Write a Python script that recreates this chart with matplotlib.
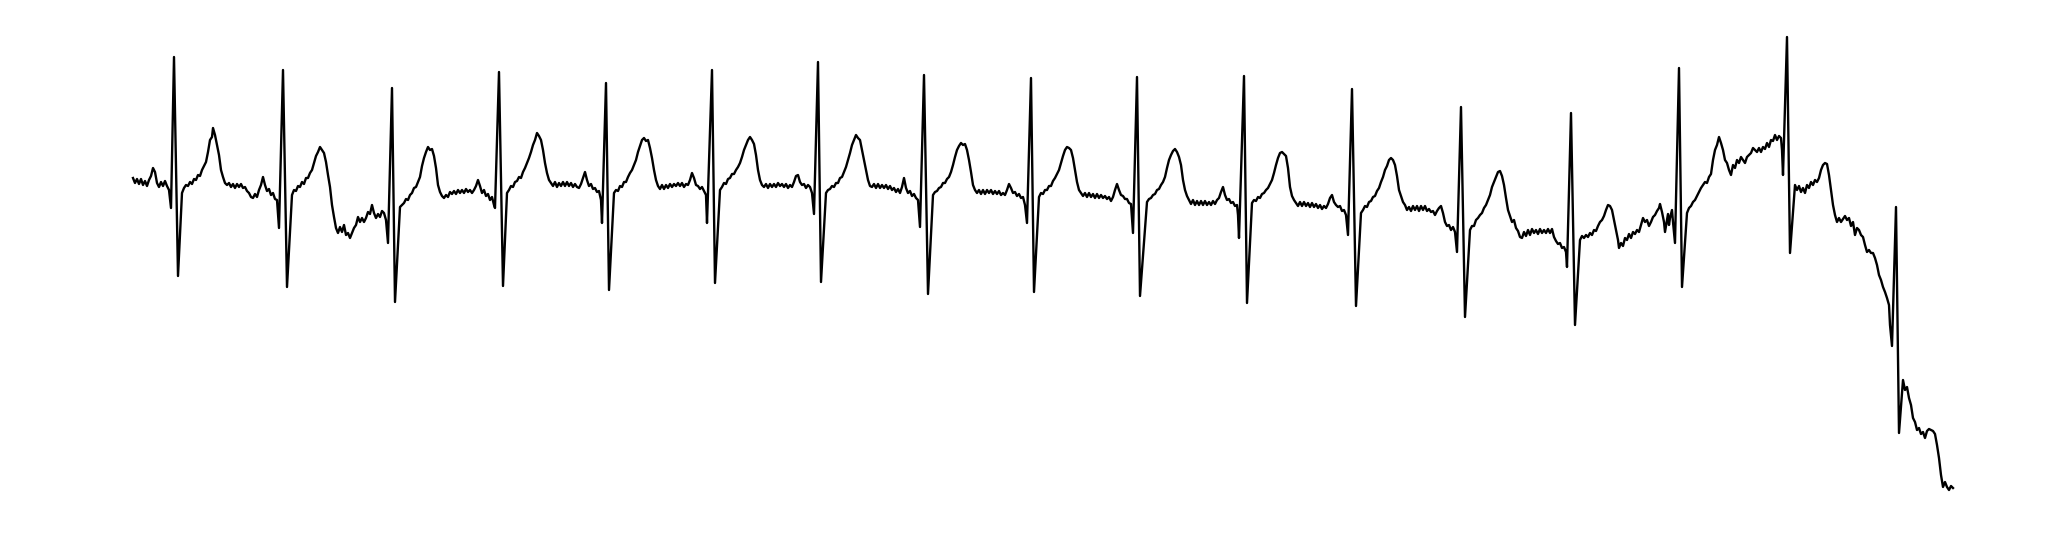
import numpy as np
import matplotlib
matplotlib.use("Agg")
import matplotlib.pyplot as plt

fs = 100.0          # samples per second
uv_per_count = 10.0 # ADC resolution

# sample index of each recorded point (one lead)
sample = [
    133,135,137,139,141,143,145,147,149,151,153,155,157,159,161,163,165,167,169,171,174,178,182,
    184,186,188,190,192,194,196,198,200,202,204,206,208,210,212,213,215,217,219,221,223,225,227,
    229,231,233,235,237,239,241,243,245,247,249,251,253,255,257,259,261,263,265,267,269,271,273,275,277,279,283,287,292,
    294,296,298,300,302,304,306,308,310,312,314,316,318,320,322,324,326,328,330,332,334,336,338,340,342,344,346,348,350,352,354,356,358,360,362,364,366,368,370,372,374,376,378,380,382,384,386,388,392,395,400,
    402,404,406,408,410,412,414,416,418,420,422,424,426,428,430,432,434,436,438,440,442,444,446,448,450,452,454,456,458,460,462,464,466,468,470,472,474,476,478,480,482,484,486,488,490,492,494,495,499,503,507,
    509,511,513,515,517,519,521,523,525,527,529,531,533,535,537,539,541,543,545,547,549,551,553,555,557,559,561,563,565,567,569,571,573,575,577,579,581,583,585,587,589,591,593,595,597,599,601,602,606,609,614,
    616,618,620,622,624,626,628,630,632,634,636,638,640,642,644,646,648,650,652,654,656,658,660,662,664,666,668,670,672,674,676,678,680,682,684,686,688,690,692,694,696,698,700,702,704,706,707,712,715,720,
    722,724,726,728,730,732,734,736,738,740,742,744,746,748,750,752,754,756,758,760,762,764,766,768,770,772,774,776,778,780,782,784,786,788,790,792,794,796,798,800,802,804,806,808,810,812,814,818,821,826,
    828,830,832,834,836,838,840,842,844,846,848,850,852,854,856,858,860,862,864,866,868,870,872,874,876,878,880,882,884,886,888,890,892,894,896,898,900,902,904,906,908,910,912,914,916,918,920,924,928,933,
    935,937,939,941,943,945,947,949,951,953,955,957,959,961,963,965,967,969,971,973,975,977,979,981,983,985,987,989,991,993,995,997,999,1001,1003,1005,1007,1009,1011,1013,1015,1017,1019,1021,1023,1025,1027,1031,1034,1039,
    1041,1043,1045,1047,1049,1051,1053,1055,1057,1059,1061,1063,1065,1067,1069,1071,1073,1075,1077,1079,1081,1083,1085,1087,1089,1091,1093,1095,1097,1099,1101,1103,1105,1107,1109,1111,1113,1115,1117,1119,1121,1123,1125,1127,1129,1131,1133,1137,1140,1147,
    1149,1151,1153,1155,1157,1159,1161,1163,1165,1167,1169,1171,1173,1175,1177,1179,1181,1183,1185,1187,1189,1191,1193,1195,1197,1199,1201,1203,1205,1207,1209,1211,1213,1215,1217,1219,1221,1223,1225,1227,1229,1231,1233,1235,1237,1238,1239,1244,1247,1252,
    1254,1256,1258,1260,1262,1264,1266,1268,1270,1272,1274,1276,1278,1280,1282,1284,1286,1288,1290,1292,1294,1296,1298,1300,1302,1304,1306,1308,1310,1312,1314,1316,1318,1320,1322,1324,1326,1328,1330,1332,1334,1336,1338,1340,1342,1344,1346,1348,1352,1356,1361,
    1363,1365,1367,1369,1371,1373,1375,1377,1379,1381,1383,1385,1387,1389,1391,1393,1395,1397,1399,1401,1403,1405,1407,1409,1411,1413,1415,1417,1419,1421,1423,1425,1427,1429,1431,1433,1435,1437,1439,1441,1443,1445,1447,1449,1451,1453,1455,1457,1461,1465,1470,
    1472,1474,1476,1478,1480,1482,1484,1486,1488,1490,1492,1494,1496,1498,1500,1502,1504,1506,1508,1510,1512,1514,1516,1518,1520,1522,1524,1526,1528,1530,1532,1534,1536,1538,1540,1542,1544,1546,1548,1550,1552,1554,1556,1558,1560,1562,1564,1566,1567,1571,1575,1580,
    1582,1584,1586,1588,1590,1592,1594,1596,1598,1600,1602,1604,1606,1608,1610,1612,1614,1616,1618,1619,1621,1623,1625,1627,1629,1631,1633,1635,1637,1639,1641,1643,1645,1647,1649,1651,1653,1655,1657,1659,1660,1662,1664,1665,1667,1668,1669,1670,1672,1673,1675,1679,1682,1687,
    1689,1691,1693,1695,1697,1699,1701,1703,1705,1707,1709,1711,1713,1715,1717,1719,1721,1723,1725,1727,1729,1731,1733,1735,1737,1739,1741,1743,1745,1747,1749,1751,1753,1755,1757,1759,1761,1763,1765,1767,1769,1771,1773,1775,1777,1779,1781,1782,1783,1787,1790,1795,
    1797,1799,1801,1803,1805,1807,1809,1811,1813,1815,1817,1819,1821,1823,1825,1827,1829,1831,1833,1835,1837,1839,1841,1843,1845,1847,1849,1851,1853,1855,1857,1859,1861,1863,1865,1867,1869,1871,1873,1875,1877,1879,1881,1883,1885,1887,1889,1890,1892,1896,1899,
    1903,1905,1907,1909,1911,1913,1915,1917,1919,1921,1923,1925,1927,1929,1931,1933,1935,1937,1939,1941,1943,1945,1947,1949,1951,1953,
]

# raw ADC counts at those samples
counts = [
    22,17,21,16,21,15,19,14,20,24,32,28,17,13,18,14,19,14,10,-8,143,-76,7,
    12,15,14,18,16,21,20,25,24,30,34,38,48,60,63,72,65,55,45,30,23,17,15,
    17,13,16,12,16,13,16,12,13,9,7,3,2,6,3,10,15,23,15,9,11,5,7,1,0,-28,130,-87,5,
    10,9,14,13,18,16,22,22,27,30,37,44,48,53,50,47,38,25,13,-5,-17,-28,-33,-27,-32,-25,-35,-33,-38,-33,-28,-25,-17,-22,-18,-22,-18,-12,-14,-5,-13,-18,-14,-17,-11,-13,-20,-43,112,-102,-7,
    -5,-3,1,0,5,7,12,13,18,23,34,42,48,53,50,51,44,32,15,8,4,2,5,3,8,6,9,6,10,7,10,7,11,8,10,7,10,14,20,14,7,10,4,6,0,3,-5,-8,128,-86,7,
    10,14,13,18,19,23,22,28,32,37,42,48,55,60,67,64,60,50,37,27,20,17,14,18,13,17,14,18,14,18,14,17,13,16,13,12,16,22,28,20,14,16,11,12,8,9,0,-23,117,-90,7,
    10,9,14,13,18,18,23,27,30,35,40,48,54,60,62,59,60,52,42,30,20,14,11,15,11,15,12,16,13,16,14,17,14,17,13,16,15,20,27,22,15,14,11,13,9,5,-23,130,-83,10,
    13,17,16,21,22,26,26,30,33,37,43,50,55,60,63,60,56,45,30,20,15,13,16,12,16,13,16,13,17,14,16,13,16,12,15,13,18,24,25,18,15,16,12,15,13,7,-14,138,-82,7,
    10,11,14,13,17,17,22,23,28,33,40,47,55,60,65,62,60,50,40,30,20,14,13,16,12,16,12,15,12,15,11,14,10,12,8,11,7,13,22,12,7,9,4,6,2,0,-27,125,-94,5,
    8,9,12,13,17,17,21,23,28,35,43,50,54,57,55,56,50,40,28,15,10,7,10,6,10,6,10,7,10,6,9,6,9,5,7,5,10,16,12,7,8,4,6,2,3,-5,-23,122,-92,3,
    7,6,10,10,14,14,19,22,26,30,37,44,50,53,52,50,42,30,18,10,7,4,7,3,7,3,6,2,6,2,5,2,4,1,3,-1,3,10,16,10,5,4,1,1,-3,-4,-33,123,-96,-2,
    1,2,5,6,10,11,15,18,23,32,40,45,49,51,48,43,35,20,10,4,0,-4,0,-5,-1,-5,-1,-5,-1,-5,-2,-5,-1,-4,0,2,8,13,5,0,1,-3,-2,-6,-5,-15,-38,124,-103,-3,
    0,-1,3,2,6,7,10,12,16,20,27,35,42,47,48,46,44,32,13,4,0,-3,-6,-2,-6,-2,-6,-3,-7,-3,-7,-4,-8,-5,-9,-6,-8,-4,2,5,-2,-5,-7,-6,-11,-10,-15,-35,111,-106,-13,
    -10,-6,-7,-2,-1,3,4,9,12,18,23,30,34,40,42,40,35,24,10,4,-2,-5,-10,-7,-11,-6,-10,-6,-11,-6,-10,-6,-11,-9,-12,-11,-15,-11,-8,-6,-13,-22,-26,-25,-30,-27,-32,-52,93,-117,-30,
    -26,-26,-20,-18,-15,-13,-8,-5,0,5,13,18,23,28,29,24,15,2,-10,-16,-22,-20,-28,-31,-37,-38,-32,-36,-30,-35,-29,-33,-30,-34,-29,-33,-30,-33,-29,-33,-29,-37,-41,-44,-43,-48,-47,-52,-67,87,-125,-40,
    -36,-38,-35,-37,-33,-35,-30,-31,-26,-22,-20,-16,-10,-5,-6,-10,-20,-30,-40,-48,-43,-46,-38,-40,-34,-38,-32,-34,-30,-32,-25,-18,-22,-20,-26,-22,-17,-15,-11,-8,-4,-12,-22,-32,-20,-14,-25,-18,-10,-22,-43,132,-87,-13,
    -8,-6,-2,0,4,8,12,15,18,17,23,26,40,50,55,63,57,50,40,37,30,25,35,32,40,37,43,40,37,43,45,47,52,50,48,52,48,53,51,57,53,60,59,65,60,64,62,50,25,163,-53,15,
    10,14,8,12,7,15,12,18,15,20,18,22,30,35,37,36,25,10,-5,-15,-22,-18,-22,-19,-16,-20,-18,-26,-22,-35,-28,-30,-35,-37,-45,-52,-50,-53,-53,-58,-65,-75,-80,-87,-92,-98,-105,-125,-146,-7,-233,
    -180,-190,-187,-198,-205,-218,-222,-230,-228,-234,-232,-238,-231,-229,-230,-231,-234,-245,-258,-275,-287,-282,-287,-290,-286,-288,
]

t = np.array(sample) / fs
mv = np.array(counts) * uv_per_count / 1000.0

fig = plt.figure(figsize=(20.46, 5.38), dpi=100)
ax = fig.add_axes([0, 0, 1, 1])
ax.plot(t, mv, color="black", lw=1.7, solid_joinstyle="round")
ax.set_xlim(0, 20.46)
ax.set_ylim(-3.38, 2.0)
ax.axis("off")
fig.savefig("out.png", dpi=100, facecolor="white")
